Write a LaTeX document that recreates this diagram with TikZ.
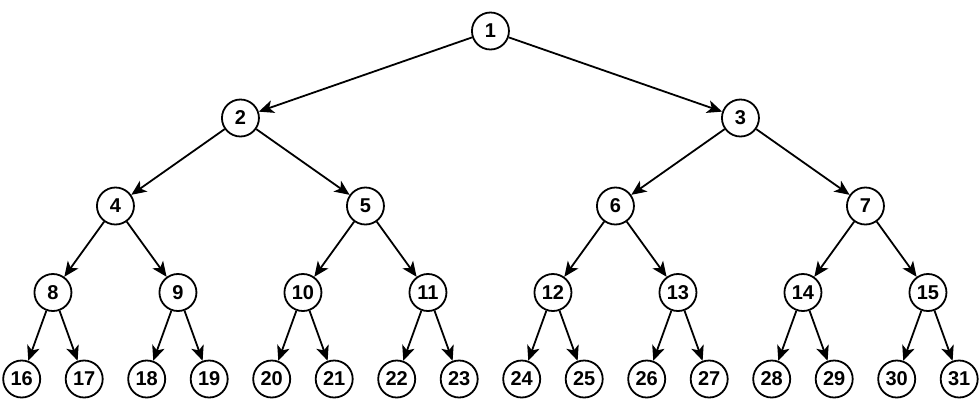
\documentclass[tikz,border=0pt]{standalone}
\usepackage{fontspec}
\setmainfont{Liberation Sans}
\usetikzlibrary{arrows.meta}
\begin{document}
\begin{tikzpicture}[x=1pt,y=-1pt,
  treenode/.style={circle,draw,line width=1.8pt,minimum size=37pt,inner sep=0pt,font=\fontsize{20}{22}\selectfont\bfseries},
  edge/.style={line width=1.8pt,-{Stealth[length=15pt,width=13pt,inset=4pt]}}]
\useasboundingbox (0,0) rectangle (980,416);
% leaves
\foreach \i in {0,...,15}{
  \pgfmathtruncatemacro{\k}{16+\i}
  \node[treenode] (n\k) at ({21.7+62.5*\i},379) {\k};
}
\foreach \i in {0,...,7}{
  \pgfmathtruncatemacro{\k}{8+\i}
  \node[treenode] (n\k) at ({52.95+125*\i},292.5) {\k};
}
\foreach \i in {0,...,3}{
  \pgfmathtruncatemacro{\k}{4+\i}
  \node[treenode] (n\k) at ({115.45+250*\i},206) {\k};
}
\foreach \i in {0,...,1}{
  \pgfmathtruncatemacro{\k}{2+\i}
  \node[treenode] (n\k) at ({240.45+500*\i},118) {\k};
}
\node[treenode] (n1) at (490.45,31) {1};
\foreach \p in {1,...,15}{
  \pgfmathtruncatemacro{\a}{2*\p}
  \pgfmathtruncatemacro{\b}{2*\p+1}
  \draw[edge] (n\p) -- (n\a);
  \draw[edge] (n\p) -- (n\b);
}
\end{tikzpicture}
\end{document}
